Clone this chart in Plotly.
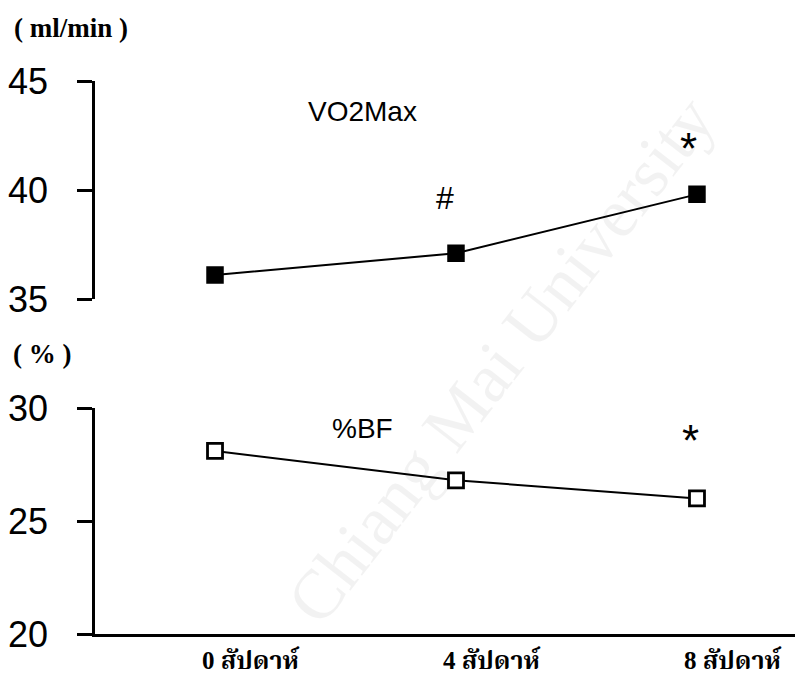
import plotly.graph_objects as go

# ---- data ----
weeks = [0, 4, 8]
week_labels = ["0 สัปดาห์", "4 สัปดาห์", "8 สัปดาห์"]
vo2max = [36.1, 37.1, 39.8]
bodyfat = [28.1, 26.8, 26.0]
vo2_ticks = [35, 40, 45]
bf_ticks = [20, 25, 30]

W, H = 812, 679
def px(x):
    return x / W
def py(y):
    return 1 - y / H

fig = go.Figure()

fig.add_trace(go.Scatter(
    x=weeks, y=vo2max, xaxis="x", yaxis="y2", mode="lines+markers",
    line=dict(color="black", width=2),
    marker=dict(symbol="square", size=16, color="black", line=dict(color="black", width=1.5)),
    showlegend=False, hoverinfo="skip"))

fig.add_trace(go.Scatter(
    x=weeks, y=bodyfat, xaxis="x", yaxis="y", mode="lines+markers",
    line=dict(color="black", width=2),
    marker=dict(symbol="square", size=15, color="white", line=dict(color="black", width=2.8)),
    showlegend=False, hoverinfo="skip"))

tickfont = dict(family="Liberation Sans, Arial, sans-serif", size=36, color="black")
thai_font = dict(family="Liberation Serif, 'Noto Serif Thai', 'Noto Sans Thai', serif", size=25, color="black")

fig.update_layout(
    width=W, height=H,
    margin=dict(l=0, r=0, t=0, b=0),
    paper_bgcolor="white", plot_bgcolor="rgba(0,0,0,0)",
    xaxis=dict(domain=[px(95), px(795)], range=[-1.992, 9.627],
               showgrid=False, zeroline=False, showline=True, linecolor="black",
               linewidth=2.5, ticks="", showticklabels=False, anchor="y"),
    yaxis=dict(domain=[py(634), py(408)], range=[20, 30], tickvals=bf_ticks,
               showgrid=False, zeroline=False, showline=True, linecolor="black",
               linewidth=2.5, ticks="outside", ticklen=15, tickwidth=2.5, tickcolor="black",
               tickfont=tickfont, ticklabelstandoff=22, anchor="x", automargin=False),
    yaxis2=dict(domain=[py(299), py(81)], range=[35, 45], tickvals=vo2_ticks,
                showgrid=False, zeroline=False, showline=True, linecolor="black",
                linewidth=2.5, ticks="outside", ticklen=15, tickwidth=2.5, tickcolor="black",
                tickfont=tickfont, ticklabelstandoff=22, anchor="free", position=px(93),
                automargin=False),
)

def note(text, x, y, font, xanchor="center", yanchor="middle", **kw):
    d = dict(text=text, x=x, y=y, xref="paper", yref="paper", showarrow=False,
             xanchor=xanchor, yanchor=yanchor, font=font)
    d.update(kw)
    return d

ann = []
# faint watermark
ann.append(note("Chiang Mai University", px(500), py(360),
                dict(family="Liberation Serif, serif", size=70, color="rgba(0,0,0,0.05)"),
                textangle=-52))
# units
unit_font = dict(family="Liberation Serif, serif", size=27, color="black")
ann.append(note("<b>( ml/min )</b>", px(12), py(28), unit_font, xanchor="left"))
ann.append(note("<b>( % )</b>", px(11), py(354), unit_font, xanchor="left"))
# series names and significance marks
lab_font = dict(family="Liberation Sans, Arial, sans-serif", size=28, color="black")
ann.append(note("VO2Max", px(362), py(112), lab_font))
ann.append(note("%BF", px(362), py(428), lab_font))
ann.append(note("#", px(445), py(198), dict(family="Liberation Sans, Arial, sans-serif", size=32, color="black")))
star_font = dict(family="Liberation Sans, Arial, sans-serif", size=44, color="black")
ann.append(note("*", px(688), py(148), star_font))
ann.append(note("*", px(690), py(440), star_font))
# x labels
for w, lab in zip(weeks, week_labels):
    ann.append(dict(text="<b>" + lab + "</b>", x=w, y=py(660), xref="x", yref="paper",
                    xanchor="left", yanchor="middle", xshift=-15, showarrow=False, font=thai_font))

fig.update_layout(annotations=ann)
fig.write_html("out.html")
